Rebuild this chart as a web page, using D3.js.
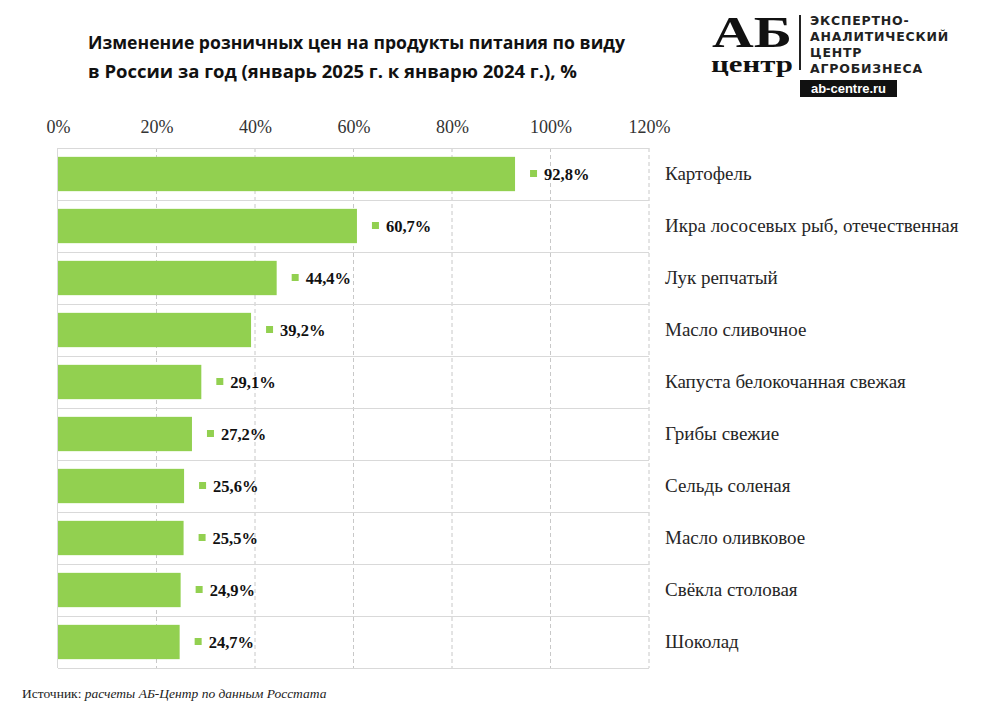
<!DOCTYPE html>
<html><head><meta charset="utf-8">
<script src="https://cdn.jsdelivr.net/npm/d3@7"></script>
<style>body{margin:0;background:#fff}svg{display:block}</style>
</head><body>
<script>
const categories = ["Картофель","Икра лососевых рыб, отечественная","Лук репчатый","Масло сливочное","Капуста белокочанная свежая","Грибы свежие","Сельдь соленая","Масло оливковое","Свёкла столовая","Шоколад"];
const values = [92.8,60.7,44.4,39.2,29.1,27.2,25.6,25.5,24.9,24.7];
const tickValues = [0,20,40,60,80,100,120];
const valueLabels = ["92,8%","60,7%","44,4%","39,2%","29,1%","27,2%","25,6%","25,5%","24,9%","24,7%"];
const titleLines = ["Изменение розничных цен на продукты питания по виду","в России за год (январь 2025 г. к январю 2024 г.), %"];

const W=1005,H=711;
const svg=d3.select("body").append("svg").attr("width",W).attr("height",H);
const green="#92d050";
const serif="Liberation Serif, Times New Roman, serif";
const x=d3.scaleLinear().domain([0,120]).range([58,649]);
const y=d3.scaleBand().domain(categories).range([148,668]).paddingInner(0.34).paddingOuter(0.17);

svg.append("g").selectAll("line").data(tickValues.slice(1)).join("line")
  .attr("x1",d=>x(d)).attr("x2",d=>x(d)).attr("y1",148).attr("y2",668)
  .attr("stroke","#c8c8c8").attr("stroke-width",1).attr("stroke-dasharray","4,3");
const bounds=categories.map((c,i)=>148+i*52).concat([668]);
svg.append("g").selectAll("line").data(bounds).join("line")
  .attr("x1",58).attr("x2",649).attr("y1",d=>d+0.5).attr("y2",d=>d+0.5)
  .attr("stroke","#d9d9d9").attr("stroke-width",1);
svg.append("line").attr("x1",57.5).attr("x2",57.5).attr("y1",148).attr("y2",668).attr("stroke","#d9d9d9");

const ax=svg.append("g").attr("transform","translate(0,133)")
  .call(d3.axisTop(x).tickValues(tickValues).tickFormat(d=>d+"%").tickSize(0).tickPadding(0));
ax.select(".domain").remove();
ax.selectAll("text").attr("font-family",serif).attr("font-size",18).attr("fill","#333");

svg.append("g").selectAll("rect").data(values).join("rect")
  .attr("x",x(0)).attr("y",(d,i)=>y(categories[i])).attr("width",d=>x(d)-x(0)).attr("height",y.bandwidth())
  .attr("fill",green);
svg.append("g").selectAll("rect").data(values).join("rect")
  .attr("x",d=>x(d)+15).attr("y",(d,i)=>y(categories[i])+y.bandwidth()/2-4).attr("width",7).attr("height",7)
  .attr("fill",green);
svg.append("g").selectAll("text").data(values).join("text")
  .attr("x",d=>x(d)+29).attr("y",(d,i)=>y(categories[i])+y.bandwidth()/2+6)
  .attr("font-family",serif).attr("font-weight","bold").attr("font-size",16.5).attr("fill","#111")
  .text((d,i)=>valueLabels[i]);
svg.append("g").selectAll("text").data(categories).join("text")
  .attr("x",665).attr("y",d=>y(d)+y.bandwidth()/2+6)
  .attr("font-family",serif).attr("font-size",19).attr("fill","#262626")
  .text(d=>d);

svg.append("g").selectAll("text").data(titleLines).join("text")
  .attr("x",88).attr("y",(d,i)=>49+i*29)
  .attr("font-family","Open Sans, sans-serif").attr("font-weight","bold").attr("font-size",17).attr("fill","#111")
  .attr("textLength",(d,i)=>i===0?537:489).attr("lengthAdjust","spacingAndGlyphs")
  .text(d=>d);

const lg=svg.append("g");
lg.append("text").attr("transform","translate(712,47) scale(1,1.3)").attr("font-family",serif).attr("font-weight","bold")
  .attr("font-size",34).attr("fill","#111").attr("textLength",80).attr("lengthAdjust","spacingAndGlyphs").text("АБ");
lg.append("text").attr("x",711).attr("y",72).attr("font-family",serif).attr("font-weight","bold")
  .attr("font-size",23).attr("fill","#111").attr("textLength",82).attr("lengthAdjust","spacingAndGlyphs").text("центр");
lg.append("line").attr("x1",800).attr("x2",800).attr("y1",15).attr("y2",70).attr("stroke","#222").attr("stroke-width",2);
const logoLines=["ЭКСПЕРТНО-","АНАЛИТИЧЕСКИЙ","ЦЕНТР","АГРОБИЗНЕСА"];
lg.selectAll("text.ll").data(logoLines).join("text").attr("class","ll")
  .attr("x",810).attr("y",(d,i)=>25+i*16).attr("font-family","DejaVu Sans, sans-serif").attr("font-weight","bold")
  .attr("font-size",12.5).attr("fill","#222").attr("letter-spacing",0.8).text(d=>d);
lg.append("rect").attr("x",800).attr("y",80).attr("width",97).attr("height",17).attr("fill","#111");
lg.append("text").attr("x",848.5).attr("y",93).attr("text-anchor","middle").attr("font-family","Liberation Sans, sans-serif")
  .attr("font-weight","bold").attr("font-size",13).attr("fill","#fff").text("ab-centre.ru");

const src=svg.append("text").attr("x",22).attr("y",698).attr("font-family",serif).attr("font-size",13.5).attr("fill","#222");
src.append("tspan").text("Источник: ");
src.append("tspan").attr("font-style","italic").text("расчеты АБ-Центр по данным Росстата");
</script>
</body></html>
